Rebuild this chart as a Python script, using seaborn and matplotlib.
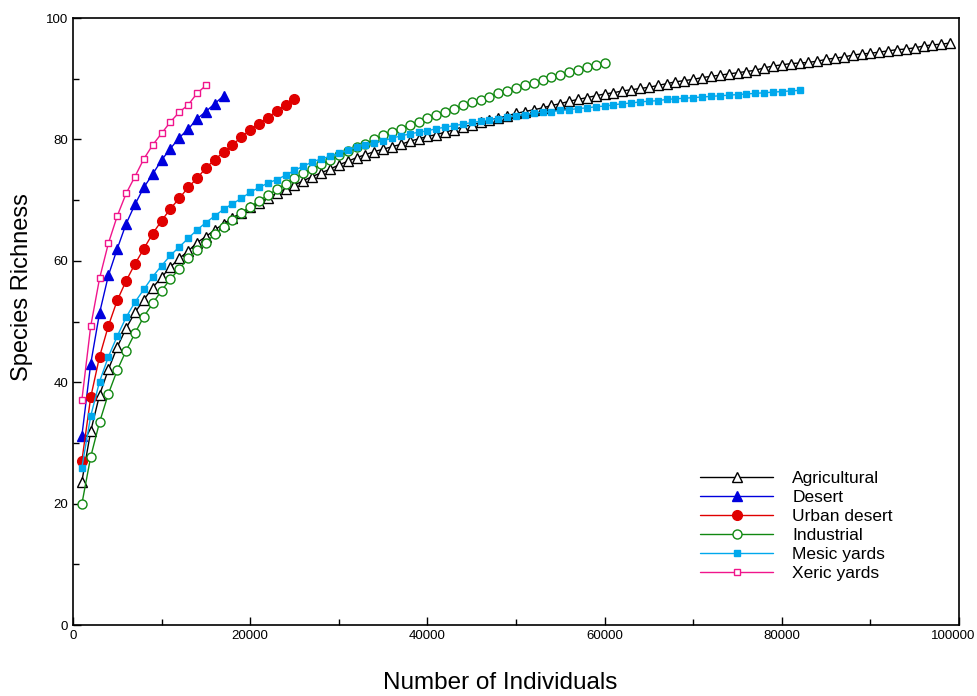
import numpy as np
import pandas as pd
import matplotlib
matplotlib.use('Agg')
import matplotlib.pyplot as plt
from matplotlib.ticker import MultipleLocator
from matplotlib.transforms import ScaledTranslation
import seaborn as sns

# Rarefaction curves, one point per 1000 individuals
agricultural = [23.6, 31.9, 37.9, 42.1, 45.8, 48.9, 51.5, 53.6, 55.6, 57.3,
                59.0, 60.4, 61.6, 63.0, 64.0, 65.1, 66.1, 67.1, 67.9, 68.9,
                69.6, 70.3, 71.2, 71.8, 72.5, 73.2, 73.9, 74.5, 75.1, 75.8,
                76.4, 77.0, 77.5, 78.0, 78.4, 78.8, 79.2, 79.7, 80.1, 80.5,
                80.8, 81.2, 81.6, 82.1, 82.4, 82.8, 83.2, 83.5, 83.9, 84.3,
                84.6, 84.9, 85.2, 85.6, 85.9, 86.3, 86.6, 86.9, 87.2, 87.5,
                87.7, 88.0, 88.2, 88.4, 88.6, 88.9, 89.2, 89.5, 89.7, 89.9,
                90.2, 90.4, 90.6, 90.8, 91.0, 91.2, 91.4, 91.8, 92.1, 92.3,
                92.5, 92.6, 92.7, 92.9, 93.2, 93.4, 93.6, 93.9, 94.1, 94.2,
                94.4, 94.6, 94.8, 94.9, 95.1, 95.4, 95.6, 95.7, 95.9]
desert = [31.1, 43.0, 51.4, 57.6, 62.0, 66.1, 69.3, 72.1, 74.3, 76.6,
          78.5, 80.3, 81.7, 83.4, 84.6, 85.9, 87.2]
urban_desert = [27.0, 37.5, 44.2, 49.3, 53.5, 56.7, 59.5, 62.0, 64.5, 66.6,
                68.6, 70.3, 72.1, 73.6, 75.3, 76.7, 77.9, 79.1, 80.4, 81.6,
                82.6, 83.6, 84.7, 85.7, 86.7]
industrial = [19.9, 27.7, 33.4, 38.1, 42.0, 45.2, 48.1, 50.8, 53.0, 55.1,
              57.0, 58.7, 60.4, 61.8, 63.0, 64.4, 65.6, 66.7, 67.9, 68.9,
              69.9, 70.8, 71.8, 72.7, 73.6, 74.4, 75.1, 75.9, 76.7, 77.4,
              78.1, 78.7, 79.3, 80.0, 80.7, 81.3, 81.8, 82.4, 82.9, 83.5,
              84.1, 84.6, 85.1, 85.6, 86.1, 86.5, 87.0, 87.6, 88.0, 88.5,
              88.9, 89.3, 89.8, 90.3, 90.7, 91.1, 91.5, 91.9, 92.3, 92.6]
mesic_yards = [25.9, 34.4, 40.1, 44.2, 47.6, 50.7, 53.2, 55.3, 57.4, 59.2,
               60.9, 62.3, 63.7, 65.1, 66.3, 67.4, 68.5, 69.4, 70.3, 71.3,
               72.1, 72.8, 73.4, 74.1, 74.9, 75.6, 76.3, 76.8, 77.2, 77.7,
               78.2, 78.7, 79.1, 79.4, 79.8, 80.2, 80.6, 80.9, 81.2, 81.4,
               81.8, 82.0, 82.3, 82.5, 82.8, 83.0, 83.2, 83.4, 83.7, 83.9,
               84.1, 84.3, 84.5, 84.6, 84.8, 84.9, 85.1, 85.2, 85.4, 85.5,
               85.7, 85.9, 86.0, 86.2, 86.3, 86.4, 86.6, 86.7, 86.8, 86.9,
               87.0, 87.1, 87.2, 87.3, 87.4, 87.5, 87.6, 87.7, 87.8, 87.9,
               88.0, 88.1]
xeric_yards = [37.0, 49.2, 57.1, 62.9, 67.4, 71.1, 73.9, 76.8, 79.1, 81.0,
               82.9, 84.5, 85.7, 87.6, 88.9]

step = 1000
series = [
    ('Agricultural', agricultural, 'black', '^', 'white', 7),
    ('Desert', desert, '#0000dd', '^', '#0000dd', 7),
    ('Urban desert', urban_desert, '#e00000', 'o', '#e00000', 7),
    ('Industrial', industrial, '#118811', 'o', 'white', 6.5),
    ('Mesic yards', mesic_yards, '#00a8ec', 's', '#00a8ec', 5),
    ('Xeric yards', xeric_yards, '#f0158c', 's', 'white', 5),
]

sns.set_style('ticks')
plt.rcParams['font.family'] = ['Liberation Sans', 'DejaVu Sans']
plt.rcParams['text.color'] = 'black'
plt.rcParams['axes.labelcolor'] = 'black'
plt.rcParams['xtick.color'] = 'black'
plt.rcParams['ytick.color'] = 'black'

fig = plt.figure(figsize=(9.78, 6.96), dpi=100)
ax = fig.add_axes([0.0746, 0.102, 0.906, 0.872])

for name, vals, col, mk, fc, ms in series:
    df = pd.DataFrame({'n': np.arange(1, len(vals) + 1) * step, 'S': vals})
    sns.lineplot(data=df, x='n', y='S', ax=ax, color=col, marker=mk,
                 markerfacecolor=fc, markeredgecolor=col, markersize=ms,
                 markeredgewidth=1.0, linewidth=1.0, label=name)

ax.set_xlim(0, 100000)
ax.set_ylim(0, 100)
ax.set_xticks([0, 20000, 40000, 60000, 80000, 100000])
ax.xaxis.set_minor_locator(MultipleLocator(10000))
ax.set_yticks([0, 20, 40, 60, 80, 100])
ax.yaxis.set_minor_locator(MultipleLocator(10))
ax.tick_params(which='both', direction='in', top=False, right=False,
               labelsize=9.5, colors='black')
ax.tick_params(which='major', length=6, width=1)
ax.tick_params(which='minor', length=4, width=1)
for s in ax.spines.values():
    s.set_linewidth(1.2)
    s.set_color('black')

# last x tick label sits a little left so it stays inside the figure
last = ax.xaxis.get_major_ticks()[-1].label1
last.set_transform(last.get_transform() + ScaledTranslation(-6 / 100, 0, fig.dpi_scale_trans))

ax.set_xlabel('Number of Individuals', fontsize=17.5)
ax.set_ylabel('Species Richness', fontsize=17)
ax.xaxis.set_label_coords(0.482, -0.077)
ax.yaxis.set_label_coords(-0.045, 0.557)

ax.legend(loc='upper left', bbox_to_anchor=(0.7, 0.265), frameon=False,
          fontsize=12.5, handlelength=4.2, handletextpad=1.1, labelspacing=0.22,
          borderaxespad=0)

fig.savefig('out.png', dpi=100)
